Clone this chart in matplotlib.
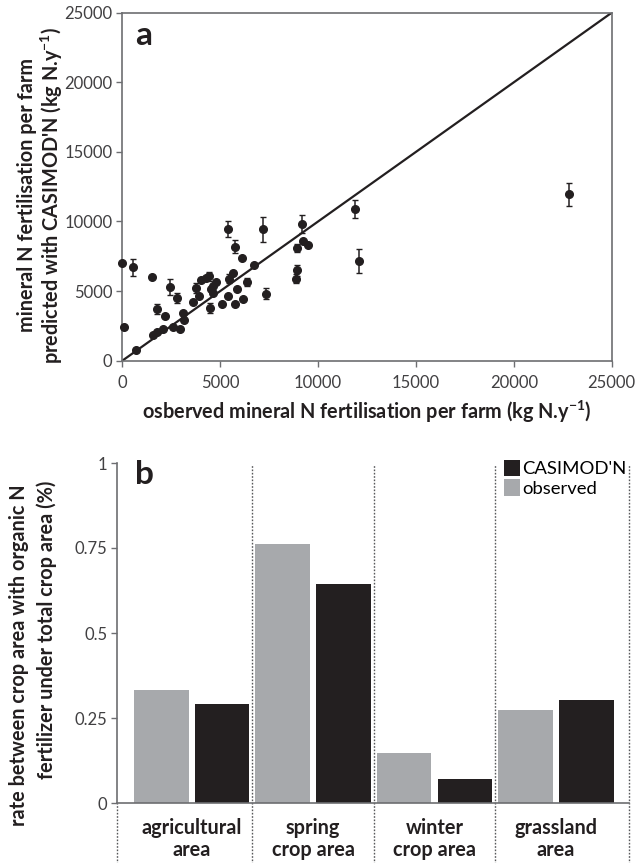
import matplotlib
matplotlib.use("Agg")
import matplotlib.pyplot as plt
import numpy as np
from matplotlib.patches import Patch

plt.rcParams['font.family'] = ['Lato', 'DejaVu Sans']
plt.rcParams['mathtext.default'] = 'regular'

# ---- panel a data ----
observed_n = [0, 100, 530, 680, 1500, 1550, 1750, 1750, 2100, 2200, 2450, 2600, 2800, 2950,
              3100, 3150, 3600, 3750, 3900, 4000, 4300, 4450, 4500, 4550, 4650, 4800, 4650,
              5100, 5400, 5400, 5450, 5650, 5750, 5750, 5850, 6100, 6150, 6350, 6750, 7200,
              7350, 8850, 8900, 8900, 9200, 9250, 9500, 11900, 12100, 22800]
predicted_n = [7050, 2400, 6700, 750, 6000, 1850, 2050, 3700, 2300, 3200, 5300, 2400, 4500, 2250,
               3400, 2950, 4200, 5200, 4650, 5800, 5950, 6050, 3800, 5150, 5400, 5650, 4850,
               4050, 9450, 4650, 5900, 6300, 8200, 4050, 5150, 7350, 4450, 5650, 6850, 9450,
               4800, 5900, 6500, 8100, 9850, 8600, 8300, 10900, 7150, 11950]
predicted_err = [0, 0, 600, 0, 0, 0, 0, 350, 0, 0, 600, 0, 350, 0,
                 0, 0, 0, 350, 0, 0, 0, 300, 350, 0, 0, 0, 0,
                 0, 550, 0, 300, 0, 450, 0, 0, 0, 0, 300, 0, 900,
                 400, 300, 400, 300, 650, 0, 0, 650, 850, 850]
scatter_ticks = [0, 5000, 10000, 15000, 20000, 25000]

# ---- panel b data ----
categories = ["agricultural\narea", "spring\ncrop area", "winter\ncrop area", "grassland\narea"]
observed_rate = [0.331, 0.761, 0.148, 0.275]
casimod_rate = [0.290, 0.643, 0.072, 0.302]
bar_ticks = [0, 0.25, 0.5, 0.75, 1]
bar_ticklabels = ["0", "0.25", "0.5", "0.75", "1"]

GRAY = "#a7a9ac"
BLACK = "#231f20"
SPINE = "#6d6e71"
TXT = "#231f20"
TICKTXT = "#414042"

LBL = 14.3
TICK = 12

W, H = 635, 863
fig = plt.figure(figsize=(W / 100, H / 100), dpi=100)

def ax_rect(l, t, r, b):
    return [l / W, 1 - b / H, (r - l) / W, (b - t) / H]

# ---------- panel a ----------
ax1 = fig.add_axes(ax_rect(122.3, 12.7, 611.7, 360.7))
ax1.plot([0, 25000], [0, 25000], color=BLACK, lw=1.6, zorder=2)
ax1.errorbar(observed_n, predicted_n, yerr=predicted_err, fmt='o', color=BLACK,
             ms=5.5, ecolor="#231f20", elinewidth=1.1, capsize=2.5, capthick=1.0,
             clip_on=False, zorder=3)
ax1.set_xlim(0, 25000)
ax1.set_ylim(0, 25000)
ax1.set_xticks(scatter_ticks)
ax1.set_yticks(scatter_ticks)
for s in ax1.spines.values():
    s.set_color(SPINE)
    s.set_linewidth(1.2)
ax1.tick_params(direction='out', length=4, width=1, color=SPINE, labelsize=TICK,
                labelcolor=TICKTXT, pad=3)
ax1.tick_params(axis='x', pad=6)
ax1.set_xlabel(r"osberved mineral N fertilisation per farm (kg N.y$^{-1}$)",
               fontsize=LBL, fontweight='bold', color=TXT, labelpad=6)
fig.text(41 / W, 1 - 195 / H,
         "mineral N fertilisation per farm\npredicted with CASIMOD'N (kg N.y$^{-1}$)",
         rotation=90, ha='center', va='center', multialignment='center',
         fontsize=LBL, fontweight='bold', color=TXT, linespacing=1.1)
ax1.text(0.026, 0.935, "a", transform=ax1.transAxes, fontsize=24, fontweight='bold',
         color=TXT, va='center', ha='left')

# ---------- panel b ----------
ax2 = fig.add_axes(ax_rect(117.3, 463, 629.3, 803))
x = np.arange(len(categories))
off, bw = 0.25, 0.45
ax2.bar(x - off, observed_rate, width=bw, color=GRAY, zorder=2)
ax2.bar(x + off, casimod_rate, width=bw, color=BLACK, zorder=2)
xl = (-0.613, 3.605)
ax2.set_xlim(*xl)
ax2.set_ylim(0, 1)
ax2.set_yticks(bar_ticks)
ax2.set_yticklabels(bar_ticklabels)
ax2.set_xticks([])
for side in ['top', 'right']:
    ax2.spines[side].set_visible(False)
ax2.spines['left'].set_color(SPINE)
ax2.spines['bottom'].set_color(SPINE)
ax2.spines['left'].set_linewidth(1.2)
ax2.spines['bottom'].set_linewidth(1.2)
ax2.tick_params(axis='y', direction='out', length=4, width=1, color=SPINE, labelsize=TICK,
                labelcolor=TICKTXT, pad=3)
# dotted separators
for xs in [xl[0], 0.5, 1.5, 2.5, xl[1]]:
    ytop = 0 if xs == xl[0] else 0.995
    ax2.plot([xs, xs], [-0.19, ytop], ls=(0, (1.2, 1.2)), color="#58595b", lw=1.0,
             clip_on=False, zorder=1)
for xi, lab in zip(x, categories):
    ax2.text(xi, -0.045, lab, ha='center', va='top', fontsize=LBL, fontweight='bold',
             color=TXT, linespacing=1.12, transform=ax2.transData)
ax2.text(0.035, 0.965, "b", transform=ax2.transAxes, fontsize=24, fontweight='bold',
         color=TXT, va='center', ha='left')
handles = [Patch(facecolor=BLACK, edgecolor='none'), Patch(facecolor=GRAY, edgecolor='none')]
ax2.legend(handles, ["CASIMOD'N", "observed"], loc='upper right', bbox_to_anchor=(0.995, 1.01),
           frameon=False, fontsize=13.3, handlelength=0.85, handleheight=1.0,
           handletextpad=0.15, labelspacing=0.1, borderaxespad=0, borderpad=0)
fig.text(19 / W, 1 - 655 / H, "rate between crop area with organic N", rotation=90,
         ha='center', va='center', fontsize=LBL, fontweight='bold', color=TXT)
fig.text(47 / W, 1 - 630 / H, "fertilizer under total crop area (%)", rotation=90,
         ha='center', va='center', fontsize=LBL, fontweight='bold', color=TXT)

fig.savefig("out.png", dpi=100)
